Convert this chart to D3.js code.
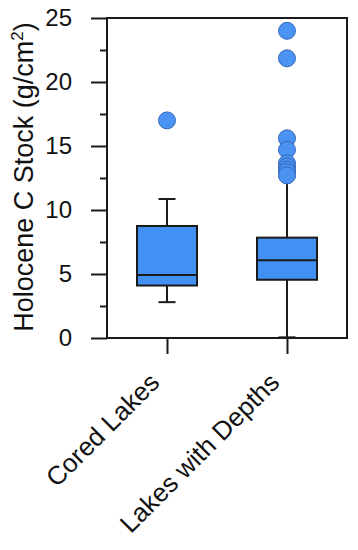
<!DOCTYPE html>
<html>
<head>
<meta charset="utf-8">
<script src="https://cdn.jsdelivr.net/npm/d3@7"></script>
<style>
  body { margin: 0; background: #fff; }
  text { font-family: "Liberation Sans", Arial, sans-serif; fill: #111; }
</style>
</head>
<body>
<svg id="chart" width="358" height="550"></svg>
<script>
// box statistics
const categories = ["Cored Lakes", "Lakes with Depths"];
const whiskerLow = [2.8, 0.05];
const q1 = [4.1, 4.55];
const median = [4.92, 6.07];
const q3 = [8.75, 7.84];
const whiskerHigh = [10.86, 12.6];
const outliers = [
    [17.0],
    [24.0, 21.85, 15.6, 14.7, 13.65, 13.4, 13.15, 12.95, 12.7]
];
const majorTicks = [0, 5, 10, 15, 20, 25];
const minorTicks = [2.5, 7.5, 12.5, 17.5, 22.5];

const margin = {left: 107, right: 11, top: 18, bottom: 212};
const width = 358 - margin.left - margin.right;
const height = 550 - margin.top - margin.bottom;
const ink = "#1a1a1a";
const boxFill = "#4190f4";

const svg = d3.select("#chart");
const g = svg.append("g").attr("transform", `translate(${margin.left},${margin.top})`);

const y = d3.scaleLinear().domain([0, 25]).range([height, 0]);
const x = d3.scalePoint().domain(categories).range([0, width]).padding(0.5);

// frame
g.append("rect")
    .attr("width", width).attr("height", height)
    .attr("fill", "none").attr("stroke", ink).attr("stroke-width", 2);

// y axis, major + minor ticks
const yMajor = g.append("g")
    .call(d3.axisLeft(y).tickValues(majorTicks).tickSize(16).tickPadding(19).tickFormat(d3.format("d")));
const yMinor = g.append("g")
    .call(d3.axisLeft(y).tickValues(minorTicks).tickSize(7).tickFormat(""));
[yMajor, yMinor].forEach(a => {
    a.select(".domain").remove();
    a.selectAll("line").attr("stroke", ink).attr("stroke-width", 2);
});
yMajor.selectAll("text").attr("font-size", 24).attr("fill", "#111");

// x axis
const xAxis = g.append("g")
    .attr("transform", `translate(0,${height})`)
    .call(d3.axisBottom(x).tickSize(16).tickFormat(""));
xAxis.select(".domain").remove();
xAxis.selectAll("line").attr("stroke", ink).attr("stroke-width", 2);

// x labels rotated
g.selectAll(".xlab")
    .data(categories)
    .join("text")
    .attr("class", "xlab")
    .attr("transform", d => `translate(${x(d) - 6},${height + 46}) rotate(-45)`)
    .attr("text-anchor", "end")
    .attr("font-size", 26)
    .text(d => d);

// y title
const title = svg.append("text")
    .attr("transform", `translate(33,${margin.top + height / 2 - 1}) rotate(-90)`)
    .attr("text-anchor", "middle")
    .attr("font-size", 27);
title.append("tspan").text("Holocene C Stock (g/cm");
title.append("tspan").attr("font-size", 17).attr("dy", -10).text("2");
title.append("tspan").attr("dy", 10).text(")");

// boxes
const boxW = 60, capW = 17;
const boxes = g.selectAll(".box")
    .data(categories)
    .join("g")
    .attr("class", "box")
    .attr("transform", d => `translate(${x(d)},0)`);

boxes.append("line")
    .attr("y1", (d, i) => y(whiskerLow[i])).attr("y2", (d, i) => y(whiskerHigh[i]))
    .attr("stroke", ink).attr("stroke-width", 2);
[whiskerLow, whiskerHigh].forEach(arr => {
    boxes.append("line")
        .attr("x1", -capW / 2).attr("x2", capW / 2)
        .attr("y1", (d, i) => y(arr[i])).attr("y2", (d, i) => y(arr[i]))
        .attr("stroke", ink).attr("stroke-width", 2);
});
boxes.append("rect")
    .attr("x", -boxW / 2).attr("width", boxW)
    .attr("y", (d, i) => y(q3[i]))
    .attr("height", (d, i) => y(q1[i]) - y(q3[i]))
    .attr("fill", boxFill).attr("stroke", ink).attr("stroke-width", 2);
boxes.append("line")
    .attr("x1", -boxW / 2).attr("x2", boxW / 2)
    .attr("y1", (d, i) => y(median[i])).attr("y2", (d, i) => y(median[i]))
    .attr("stroke", ink).attr("stroke-width", 2);

// outliers
boxes.each(function (d, i) {
    d3.select(this).selectAll("circle")
        .data(outliers[i])
        .join("circle")
        .attr("cx", 0)
        .attr("cy", v => y(v))
        .attr("r", 8.5)
        .attr("fill", "#4a93f3")
        .attr("stroke", "#3769b8")
        .attr("stroke-width", 1);
});
</script>
</body>
</html>
